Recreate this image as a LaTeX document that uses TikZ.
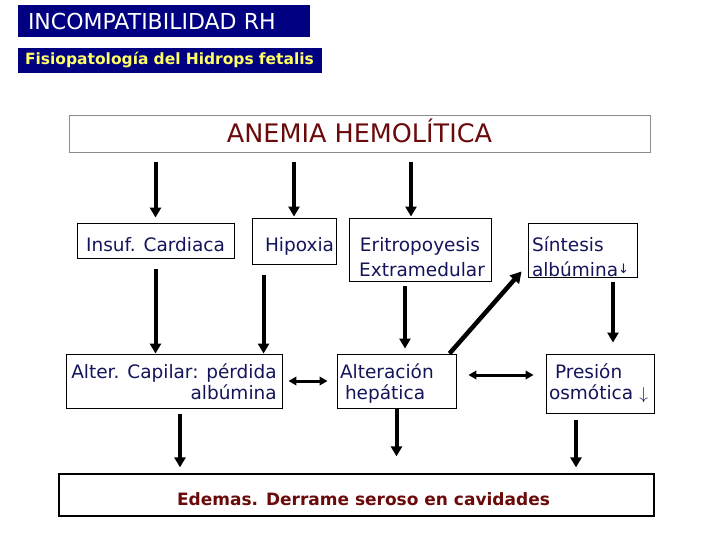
\documentclass[tikz,border=0pt]{standalone}
\usepackage{fontspec}
\setmainfont{DejaVu Sans}
\usetikzlibrary{arrows.meta}
\definecolor{navybar}{HTML}{000080}
\definecolor{navytext}{HTML}{14145A}
\definecolor{wine}{HTML}{6B0A0A}
\definecolor{sunny}{HTML}{FFFF66}
\definecolor{frame}{HTML}{8C8C8C}
\tikzset{
  nodebox/.style={draw=black,line width=0.9pt,inner sep=0pt,text=navytext,
                  font=\fontsize{18.5}{21}\selectfont},
  titlebar/.style={fill=navybar,inner ysep=0pt,align=left},
  arrowmain/.style={-{Triangle[length=10pt,width=11pt]},line width=4pt},
  arrowboth/.style={{Triangle[length=8pt,width=8.5pt]}-{Triangle[length=8pt,width=8.5pt]},
                    line width=3pt},
  arrowdiag/.style={-{Triangle[length=11pt,width=12pt]},line width=4.5pt},
}
\begin{document}
\begin{tikzpicture}[x=1pt,y=-1pt]
  \useasboundingbox (0,0) rectangle (720,540);
  % title bars
  \node[titlebar,minimum width=292,minimum height=32,inner xsep=10pt,text width=272,
        text=white,font=\fontsize{22}{24}\selectfont,text height=18pt,text depth=0pt]
    (title) at(164,21){INCOMPATIBILIDAD RH};
  \node[titlebar,minimum width=304,minimum height=25,inner xsep=7pt,text width=290,
        text=sunny,font=\fontsize{15.5}{18}\selectfont\bfseries,text height=9pt,text depth=0pt]
    (subtitle) at(170,60.5){Fisiopatología del Hidrops fetalis};
  % boxes
  \node[nodebox,draw=frame,line width=1pt,minimum width=581,minimum height=37,
        text=wine,font=\fontsize{25.5}{28}\selectfont,text height=16pt,text depth=0pt]
    (anemia) at(359.5,134.5){ANEMIA HEMOLÍTICA};
  \node[nodebox,minimum width=157,minimum height=35,text height=22pt,text depth=0pt]
    (insuf) at(155.5,240.5){Insuf. Cardiaca};
  \node[nodebox,minimum width=84,minimum height=46,inner xsep=2pt,text width=80,
        align=right,text height=21pt,text depth=0pt]
    (hipoxia) at(294,241){Hipoxia};
  \node[nodebox,minimum width=142,minimum height=63,align=center,
        text height=54pt,text depth=0pt]
    (eritro) at(420,249.5){Eritropoyesis\\[4pt]\hspace*{4pt}Extramedular};
  \node[nodebox,minimum width=109,minimum height=54,inner xsep=4pt,text width=101,
        align=left,text height=3pt,text depth=0pt]
    (sintesis) at(582.5,250){Síntesis\\[4pt]albúmina{\fontsize{13}{13}\selectfont\raisebox{3pt}{↓}}};
  \node[nodebox,minimum width=216,minimum height=54,align=right,
        text height=37pt,text depth=0pt]
    (alter) at(174,381){Alter. Capilar: pérdida\\albúmina};
  \node[nodebox,minimum width=119,minimum height=54,inner xsep=3pt,text width=113,
        align=left,text height=0pt,text depth=5pt]
    (alteracion) at(396.5,381){Alteración\\\hspace*{5pt}hepática};
  \node[nodebox,minimum width=108,minimum height=59,inner xsep=3pt,text width=102,
        align=left,text height=0pt,text depth=10pt]
    (presion) at(600,383.5){\hspace*{6pt}Presión\\osmótica $\downarrow$};
  \node[nodebox,line width=1.2pt,minimum width=595,minimum height=42,text=wine,
        font=\fontsize{17}{20}\selectfont\bfseries,text height=20pt,text depth=0pt]
    (edemas) at(356.5,495){\hspace*{14pt}Edemas. Derrame seroso en cavidades};
  % arrows from the top box
  \draw[arrowmain,shorten <=9pt,shorten >=5pt](insuf.north |- anemia.south) -- (insuf.north);
  \draw[arrowmain,shorten <=9pt,shorten >=1pt](hipoxia.north |- anemia.south) -- (hipoxia.north);
  \draw[arrowmain,shorten <=9pt,shorten >=1pt]([xshift=-9pt]eritro.north |- anemia.south)
    -- ([xshift=-9pt]eritro.north);
  % middle row
  \draw[arrowmain,shorten <=11pt](insuf.south) -- (insuf.south |- alter.north);
  \draw[arrowmain,shorten <=11pt]([xshift=12pt]hipoxia.south west)
    -- ([xshift=12pt]hipoxia.south west |- alter.north);
  \draw[arrowmain,shorten <=5pt,shorten >=5pt]([xshift=-15pt]eritro.south)
    -- ([xshift=-15pt]eritro.south |- alteracion.north);
  \draw[arrowdiag]([xshift=-7pt]alteracion.north east)
    -- ([xshift=-6pt,yshift=6pt]sintesis.south west);
  \draw[arrowmain,shorten <=5pt,shorten >=11pt]([xshift=30.5pt]sintesis.south)
    -- ([xshift=30.5pt]sintesis.south |- presion.north);
  \draw[arrowboth,shorten <=6pt,shorten >=9pt](alter.east) -- (alteracion.west);
  \draw[arrowboth,shorten <=12pt,shorten >=12pt]([yshift=6pt]alteracion.east)
    -- ([yshift=6pt]alteracion.east -| presion.west);
  % into the bottom box
  \draw[arrowmain,shorten <=6pt,shorten >=6pt]([xshift=6pt]alter.south)
    -- ([xshift=6pt]alter.south |- edemas.north);
  \draw[arrowmain,shorten >=17pt](alteracion.south) -- (alteracion.south |- edemas.north);
  \draw[arrowmain,shorten <=7pt,shorten >=6pt]([xshift=-24pt]presion.south)
    -- ([xshift=-24pt]presion.south |- edemas.north);
\end{tikzpicture}
\end{document}
